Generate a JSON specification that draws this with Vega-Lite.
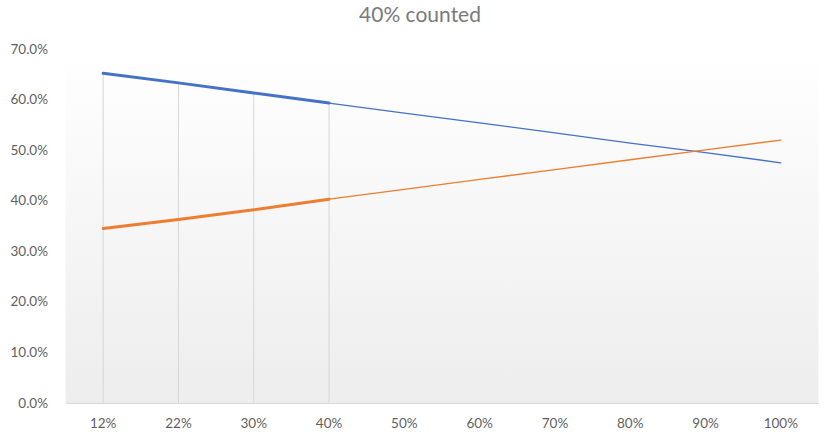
{
  "$schema": "https://vega.github.io/schema/vega-lite/v6.json",
  "width": 753,
  "height": 354,
  "autosize": {"type": "none"},
  "padding": {"left": 65.5, "top": 49, "right": 21.5, "bottom": 37},
  "background": "#ffffff",
  "title": {
    "text": "40% counted",
    "font": "Lato",
    "fontSize": 21,
    "fontWeight": "normal",
    "color": "#7a7a7a",
    "anchor": "middle",
    "dx": -22,
    "offset": 16
  },
  "config": {
    "view": {"stroke": null},
    "axis": {
      "labelFont": "Lato",
      "labelFontSize": 13.5,
      "labelColor": "#5f5f5f",
      "grid": false,
      "ticks": false
    }
  },
  "data": {
    "values": [
      {"x": "12%", "party": "A", "segment": "actual", "value": 0.652},
      {"x": "22%", "party": "A", "segment": "actual", "value": 0.633},
      {"x": "30%", "party": "A", "segment": "actual", "value": 0.613},
      {"x": "40%", "party": "A", "segment": "actual", "value": 0.593},
      {"x": "40%", "party": "A", "segment": "projected", "value": 0.593},
      {"x": "50%", "party": "A", "segment": "projected", "value": 0.573},
      {"x": "60%", "party": "A", "segment": "projected", "value": 0.554},
      {"x": "70%", "party": "A", "segment": "projected", "value": 0.534},
      {"x": "80%", "party": "A", "segment": "projected", "value": 0.514},
      {"x": "90%", "party": "A", "segment": "projected", "value": 0.495},
      {"x": "100%", "party": "A", "segment": "projected", "value": 0.475},
      {"x": "12%", "party": "B", "segment": "actual", "value": 0.345},
      {"x": "22%", "party": "B", "segment": "actual", "value": 0.363},
      {"x": "30%", "party": "B", "segment": "actual", "value": 0.382},
      {"x": "40%", "party": "B", "segment": "actual", "value": 0.403},
      {"x": "40%", "party": "B", "segment": "projected", "value": 0.403},
      {"x": "50%", "party": "B", "segment": "projected", "value": 0.4225},
      {"x": "60%", "party": "B", "segment": "projected", "value": 0.442},
      {"x": "70%", "party": "B", "segment": "projected", "value": 0.4615},
      {"x": "80%", "party": "B", "segment": "projected", "value": 0.481},
      {"x": "90%", "party": "B", "segment": "projected", "value": 0.5005},
      {"x": "100%", "party": "B", "segment": "projected", "value": 0.52}
    ]
  },
  "layer": [
    {
      "data": {"values": [{"lo": 0, "hi": 0.7}]},
      "mark": {
        "type": "rect",
        "fill": {
          "gradient": "linear",
          "x1": 0, "y1": 0, "x2": 0, "y2": 1,
          "stops": [
            {"offset": 0, "color": "#ffffff"},
            {"offset": 1, "color": "#ededed"}
          ]
        }
      },
      "encoding": {
        "y": {
          "field": "lo",
          "type": "quantitative",
          "scale": {"domain": [0, 0.7]},
          "axis": {
            "title": null,
            "format": ".1%",
            "values": [0, 0.1, 0.2, 0.3, 0.4, 0.5, 0.6, 0.7],
            "domain": false,
            "labelPadding": 18
          }
        },
        "y2": {"field": "hi"}
      }
    },
    {
      "transform": [{"filter": "datum.party === 'A' && datum.segment === 'actual'"}],
      "mark": {"type": "rule", "color": "#d6d6d6", "strokeWidth": 1},
      "encoding": {
        "x": {
          "field": "x",
          "type": "ordinal",
          "sort": ["12%", "22%", "30%", "40%", "50%", "60%", "70%", "80%", "90%", "100%"],
          "scale": {"paddingInner": 0, "paddingOuter": 0},
          "axis": {
            "title": null,
            "labelAngle": 0,
            "labelPadding": 13,
            "domain": true,
            "domainColor": "#d9d9d9",
            "domainWidth": 1
          }
        },
        "y": {"field": "value", "type": "quantitative"},
        "y2": {"datum": 0}
      }
    },
    {
      "mark": {"type": "line", "strokeCap": "round"},
      "encoding": {
        "x": {
          "field": "x",
          "type": "ordinal",
          "sort": ["12%", "22%", "30%", "40%", "50%", "60%", "70%", "80%", "90%", "100%"]
        },
        "y": {"field": "value", "type": "quantitative"},
        "color": {
          "field": "party",
          "type": "nominal",
          "scale": {"domain": ["A", "B"], "range": ["#4472C4", "#ED7D31"]},
          "legend": null
        },
        "detail": {"field": "segment", "type": "nominal"},
        "strokeWidth": {
          "field": "segment",
          "type": "ordinal",
          "scale": {"domain": ["actual", "projected"], "range": [3, 1.3]},
          "legend": null
        }
      }
    }
  ]
}
